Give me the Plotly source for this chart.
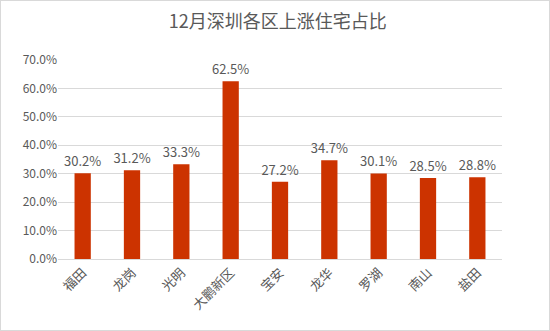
import plotly.graph_objects as go

districts = ["福田", "龙岗", "光明", "大鹏新区", "宝安", "龙华", "罗湖", "南山", "盐田"]
shares = [0.302, 0.312, 0.333, 0.625, 0.272, 0.347, 0.301, 0.285, 0.288]
y_ticks = [0, 0.1, 0.2, 0.3, 0.4, 0.5, 0.6, 0.7]

font_family = "Noto Sans CJK SC, Noto Sans, sans-serif"
gray = "#595959"

fig = go.Figure(go.Bar(
    x=districts, y=shares,
    marker=dict(color="#CC3300", line=dict(width=0)),
    width=0.33,
    text=[f"{v*100:.1f}%" for v in shares],
    textposition="outside",
    constraintext="none",
    textfont=dict(size=13, color=gray, family=font_family),
    cliponaxis=False,
))

fig.update_layout(
    width=550, height=331,
    margin=dict(l=58, r=48, t=60, b=72),
    paper_bgcolor="white", plot_bgcolor="white",
    title=dict(text="12月深圳各区上涨住宅占比", x=0.505, xanchor="center", y=0.935, yanchor="middle",
               font=dict(size=18, color=gray, family=font_family)),
    font=dict(family=font_family, color=gray, size=12),
    showlegend=False,
    xaxis=dict(tickangle=-45, tickfont=dict(size=13, color=gray), showgrid=False,
               showline=True, linecolor="#d9d9d9", linewidth=1, ticks=""),
    yaxis=dict(range=[0, 0.7], tickvals=y_ticks, tickformat=".1%", showgrid=True,
               gridcolor="#d9d9d9", gridwidth=1, zeroline=False, showline=False,
               tickfont=dict(size=12, color=gray), ticks="", ticklen=0),
    shapes=[dict(type="rect", xref="paper", yref="paper", x0=-58/444, x1=1+48/444,
                 y0=-72/199, y1=1+60/199, line=dict(color="#d9d9d9", width=2), layer="below")],
)

fig.write_html("out.html")
